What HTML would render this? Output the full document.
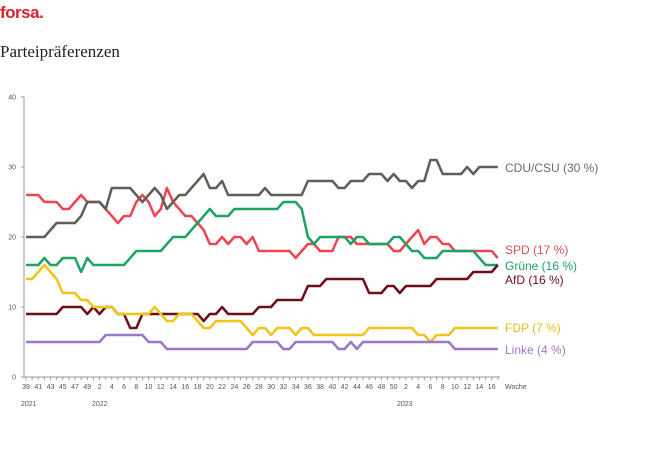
<!DOCTYPE html>
<html><head><meta charset="utf-8"><style>
html,body{margin:0;padding:0;background:#fff;width:652px;height:450px;overflow:hidden}
svg{display:block}
</style></head><body>
<svg id="s" width="652" height="450" xmlns="http://www.w3.org/2000/svg" font-family="Liberation Sans, sans-serif">
<text x="0" y="18" font-size="17" font-weight="bold" fill="#d8212c" letter-spacing="-0.5">forsa.</text>
<text x="0" y="57" font-size="17" font-family="Liberation Serif, serif" fill="#222">Parteipräferenzen</text>
<g id="ax" stroke="#999" stroke-width="1"></g>
<g id="lab" font-size="7" fill="#555"></g>
<g id="ser" fill="none" stroke-width="2.5" stroke-linejoin="round"></g>
<g font-size="12">
<text x="505" y="172" fill="#6b6b66">CDU/CSU (30 %)</text>
<text x="505" y="254" fill="#d8505a">SPD (17 %)</text>
<text x="505" y="270" fill="#1da462">Grüne (16 %)</text>
<text x="505" y="284" fill="#6b0f1a">AfD (16 %)</text>
<text x="505" y="332" fill="#e8bd20">FDP (7 %)</text>
<text x="505" y="354" fill="#9d77c9">Linke (4 %)</text>
</g>
</svg>
<script>
var NS="http://www.w3.org/2000/svg";
function el(p,t,a,txt){var e=document.createElementNS(NS,t);for(var k in a)e.setAttribute(k,a[k]);if(txt!=null)e.textContent=txt;document.getElementById(p).appendChild(e);}
var N=78,x0=26,dx=465.7/76,y0=377,dy=7;
function X(i){return x0+i*dx}function Y(v){return y0-v*dy}
el("ax","line",{x1:24,y1:97,x2:24,y2:377});
el("ax","line",{x1:24,y1:377,x2:500,y2:377});
for(var v=0;v<=40;v+=10){el("ax","line",{x1:21,y1:Y(v),x2:24,y2:Y(v)});el("lab","text",{x:16,y:Y(v)+2.5,"text-anchor":"end"},v);}
var wk=[];for(var w=39;w<=49;w++)wk.push(w);wk.push(51);for(var w=2;w<=50;w++)wk.push(w);wk.push(52);for(var w=2;w<=17;w++)wk.push(w);
for(var i=0;i<N;i++){el("ax","line",{x1:X(i),y1:377,x2:X(i),y2:380});if(i%2==0)el("lab","text",{x:X(i),y:389,"text-anchor":"middle"},wk[i]);}
el("lab","text",{x:505,y:389},"Woche");
el("lab","text",{x:21,y:406},"2021");el("lab","text",{x:92,y:406},"2022");el("lab","text",{x:397,y:406},"2023");
function build(b){var a=[],j=0,v=b[0][1];for(var i=0;i<83;i++){while(j<b.length&&b[j][0]<=i){v=b[j][1];j++;}a.push(v);}return a;}
var S=[
["#ee4454",[[0,26],[3,25],[6,24],[9,25],[10,26],[11,25],[14,24],[15,23],[16,22],[17,23],[19,25],[20,26],[21,25],[22,23],[23,24],[24,27],[26,25],[27,24],[28,23],[30,22],[31,21],[32,19],[34,20],[35,19],[36,20],[38,19],[39,20],[40,19],[41,18],[47,17],[48,18],[49,19],[51,18],[54,20],[55,19],[56,20],[58,19],[64,18],[66,19],[67,20],[68,21],[69,19],[70,20],[73,19],[75,18],[82,17]]],
["#1da462",[[0,16],[3,17],[4,16],[6,17],[10,15],[11,17],[12,16],[18,17],[19,18],[24,19],[26,20],[29,21],[30,22],[31,23],[32,24],[33,23],[36,24],[45,25],[48,24],[49,20],[50,19],[51,20],[57,19],[58,20],[60,19],[64,20],[66,19],[67,18],[69,17],[73,18],[79,17],[80,16]]],
["#6b0f1a",[[0,9],[6,10],[11,9],[12,10],[13,9],[14,10],[16,9],[18,7],[20,9],[31,8],[32,9],[34,10],[35,9],[41,10],[44,11],[49,13],[52,14],[60,12],[63,13],[65,12],[66,13],[72,14],[78,15],[82,16]]],
["#f0c419",[[0,14],[2,15],[3,16],[4,15],[5,14],[6,12],[10,11],[12,10],[16,9],[22,10],[23,9],[24,8],[27,9],[30,8],[31,7],[33,8],[38,7],[39,6],[41,7],[43,6],[44,7],[47,6],[48,7],[50,6],[60,7],[68,6],[70,5],[71,6],[75,7]]],
["#9d77c9",[[0,5],[14,6],[21,5],[24,4],[39,5],[45,4],[47,5],[54,4],[57,5],[58,4],[59,5],[75,4]]],
["#5f5f57",[[0,20],[4,21],[5,22],[10,23],[11,25],[14,24],[15,27],[19,26],[20,25],[21,26],[22,27],[23,26],[24,24],[26,25],[27,26],[29,27],[30,28],[31,29],[32,27],[34,28],[35,26],[42,27],[43,26],[49,28],[54,27],[55,28],[56,27],[57,28],[60,29],[63,28],[64,29],[65,28],[67,27],[68,28],[70,31],[73,29],[77,30],[78,29],[79,30]]]
];
S.forEach(function(s){var o=build(s[1]),d="";for(var j=0;j<N;j++){var k=Math.min(82,Math.round(j*dx/5.74));if(j==N-1)k=82;d+=(j?"L":"M")+X(j).toFixed(1)+","+Y(o[k]);}el("ser","path",{d:d,stroke:s[0]});});
</script>
</body></html>
